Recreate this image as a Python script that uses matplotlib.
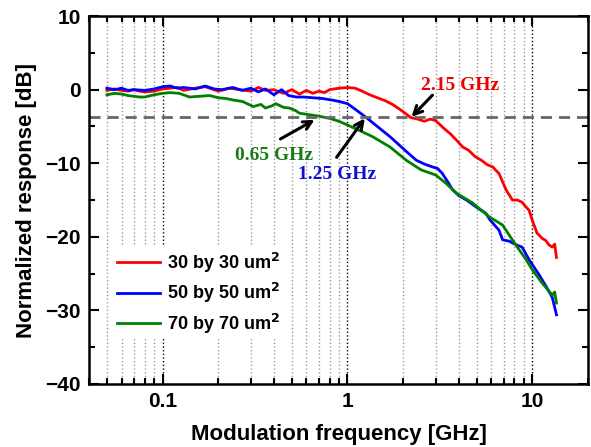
# Frequency response of three device sizes, with the -3 dB bandwidths marked
import matplotlib.pyplot as plt
from matplotlib.ticker import LogLocator, MultipleLocator, FixedLocator

plt.rcParams['font.family'] = 'Liberation Sans'
plt.rcParams['font.weight'] = 'bold'

labels = ["30 by 30 um$^\\mathbf{2}$", "50 by 50 um$^\\mathbf{2}$", "70 by 70 um$^\\mathbf{2}$"]

# 30 x 30
freq_30 = [0.05, 0.055, 0.06, 0.065, 0.07, 0.075, 0.08, 0.09, 0.1, 0.11, 0.12, 0.13, 0.15, 0.17,
           0.2, 0.23, 0.26, 0.3, 0.33, 0.36, 0.4, 0.45, 0.5, 0.55, 0.6, 0.65, 0.7, 0.75, 0.8, 0.9,
           1.0, 1.1, 1.2, 1.32, 1.45, 1.6, 1.75, 1.9, 2.05, 2.2, 2.4, 2.6, 2.8, 3.0, 3.3, 3.6,
           3.9, 4.2, 4.5, 4.9, 5.3, 5.7, 6.1, 6.6, 7.2, 7.8, 8.3, 8.8, 9.2, 9.6, 10.0, 10.6, 11.3,
           11.8, 12.3, 12.8, 13.2, 13.5]
resp_30 = [-0.1, 0.1, -0.1, -0.2, 0.0, -0.2, -0.3, -0.2, 0.1, 0.2, 0.3, -0.1, 0.2, 0.4,
           -0.2, 0.2, 0.0, -0.2, 0.3, -0.1, 0.0, -0.5, 0.0, -0.6, -0.1, -0.5, -0.2, -0.4, 0.0, 0.2,
           0.3, 0.2, -0.2, -0.7, -1.1, -1.5, -2.0, -2.6, -3.2, -3.8, -4.0, -4.3, -4.0, -4.2, -5.2, -6.0,
           -6.9, -7.8, -8.2, -9.1, -9.6, -10.2, -10.5, -11.4, -13.6, -15.0, -15.0, -15.3, -15.9, -16.4,
           -17.8, -19.5, -20.2, -20.5, -21.1, -21.4, -21.0, -22.8]

# 50 x 50
freq_50 = [0.05, 0.055, 0.06, 0.065, 0.07, 0.08, 0.09, 0.1, 0.11, 0.12, 0.13, 0.15, 0.17, 0.19,
           0.21, 0.24, 0.27, 0.3, 0.33, 0.36, 0.4, 0.44, 0.48, 0.53, 0.58, 0.65, 0.73, 0.82, 0.9,
           1.0, 1.12, 1.28, 1.45, 1.7, 1.9, 2.08, 2.36, 2.6, 2.88, 3.07, 3.26, 3.5, 3.7, 4.0, 4.4,
           5.0, 5.6, 5.9, 6.6, 6.9, 7.5, 8.2, 8.8, 9.6, 10.9, 11.9, 12.8, 13.5]
resp_50 = [0.2, 0.0, 0.2, -0.1, 0.0, -0.1, 0.1, 0.4, 0.5, 0.2, 0.3, 0.1, 0.5, 0.1,
           0.0, 0.3, -0.1, 0.2, -0.3, 0.1, -0.7, 0.0, -0.8, -1.0, -1.0, -1.1, -1.2, -1.4, -1.6,
           -1.9, -2.8, -3.9, -5.0, -6.4, -7.5, -8.4, -9.6, -10.1, -10.5, -10.7, -11.4, -12.6, -13.6, -14.4, -15.0,
           -16.0, -16.8, -17.7, -19.1, -20.4, -20.6, -21.1, -21.4, -23.1, -25.2, -26.8, -28.2, -30.6]

# 70 x 70
freq_70 = [0.05, 0.055, 0.06, 0.065, 0.07, 0.075, 0.08, 0.09, 0.1, 0.11, 0.123, 0.14, 0.158, 0.18,
           0.2, 0.22, 0.24, 0.27, 0.31, 0.34, 0.36, 0.39, 0.41, 0.45, 0.485, 0.52, 0.55, 0.62, 0.7,
           0.8, 0.9, 1.0, 1.15, 1.37, 1.7, 2.08, 2.5, 3.0, 3.4, 3.9, 4.75, 5.86, 6.9, 7.6, 8.5,
           9.2, 10.0, 11.3, 12.8, 13.2, 13.5]
resp_70 = [-0.7, -0.5, -0.6, -0.8, -0.9, -1.0, -1.0, -0.7, -0.5, -0.4, -0.5, -1.0, -0.9, -0.8,
           -1.1, -1.2, -1.4, -1.6, -2.3, -2.0, -2.5, -2.2, -1.9, -2.4, -2.5, -2.8, -3.2, -3.4, -3.6,
           -3.9, -4.3, -4.8, -5.5, -6.4, -7.8, -9.6, -10.9, -11.6, -12.7, -14.1, -15.4, -17.3, -18.4, -20.0, -21.8,
           -23.0, -24.5, -26.3, -27.9, -27.5, -29.0]

fig = plt.figure(figsize=(5.91, 4.47), dpi=100)
ax = fig.add_axes([0.1506, 0.141, 0.8444, 0.823])

ax.plot(freq_30, resp_30, color='#ff0000', lw=2, label=labels[0])
ax.plot(freq_50, resp_50, color='#0000ff', lw=2, label=labels[1])
ax.plot(freq_70, resp_70, color='#007f00', lw=2, label=labels[2])
ax.axhline(-3.7, color='#666666', lw=2, ls=(0, (4, 2.5)))

ax.set_xscale('log')
ax.set_xlim(0.04, 20)
ax.set_ylim(-40, 10)
ax.xaxis.set_major_locator(FixedLocator([0.1, 1, 10]))
ax.xaxis.set_minor_locator(LogLocator(base=10, subs=range(2, 10)))
ax.xaxis.set_minor_formatter(plt.NullFormatter())
ax.set_xticklabels(['0.1', '1', '10'])
ax.yaxis.set_major_locator(MultipleLocator(10))
ax.yaxis.set_minor_locator(MultipleLocator(5))

ax.grid(True, which='major', axis='x', color='black', ls=':', lw=1)
ax.grid(True, which='minor', axis='x', color='#999999', ls=':', lw=1)

ax.tick_params(which='both', direction='in', top=True, right=True, width=1.5, labelsize=15, pad=6)
ax.tick_params(which='major', length=7)
ax.tick_params(which='minor', length=4)
for s in ax.spines.values():
    s.set_linewidth(1.8)

ax.set_xlabel('Modulation frequency [GHz]', fontsize=16, fontweight='bold', labelpad=9)
ax.set_ylabel('Normalized response [dB]', fontsize=16, fontweight='bold', labelpad=6)

leg = ax.legend(loc='lower left', bbox_to_anchor=(0.03, 0.097), frameon=True, fontsize=13,
                handlelength=2.4, handletextpad=0.4, labelspacing=0.35, borderpad=0.2)
leg.get_frame().set_edgecolor('none')
leg.get_frame().set_facecolor('white')
leg.get_frame().set_alpha(1)

serif = dict(family='Liberation Serif', fontweight='bold', fontsize=14, ha='center', va='center')
arrow = dict(arrowstyle='->', color='black', lw=2.2, mutation_scale=15, shrinkA=0, shrinkB=0)

ax.text(4.08, 0.5, '2.15 GHz', color='#ee0000', **serif)
ax.annotate('', xy=(2.22, -3.7), xytext=(2.88, -0.75), arrowprops=arrow)

ax.text(0.88, -11.5, '1.25 GHz', color='#1010cc', **serif)
ax.annotate('', xy=(1.24, -3.9), xytext=(0.873, -9.2), arrowprops=arrow)

ax.text(0.40, -8.9, '0.65 GHz', color='#1a7a1a', **serif)
ax.annotate('', xy=(0.664, -4.1), xytext=(0.434, -6.7), arrowprops=arrow)

fig.savefig('out.png', dpi=100)
